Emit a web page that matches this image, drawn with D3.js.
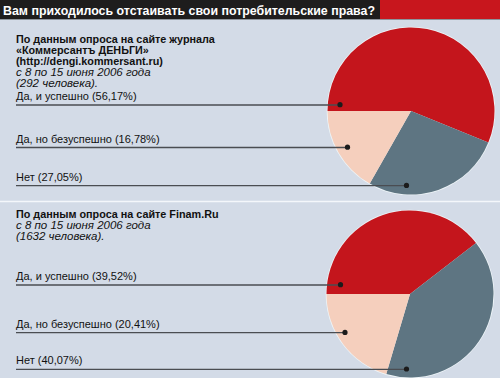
<!DOCTYPE html>
<html><head><meta charset="utf-8">
<script src="https://cdn.jsdelivr.net/npm/d3@7"></script>
<style>body{margin:0;padding:0;background:#d3dbe7}svg{display:block}</style>
</head><body>
<script>
const title = "Вам приходилось отстаивать свои потребительские права?";
const categories = ["Да, и успешно", "Нет", "Да, но безуспешно"];
const survey1Values = [56.17, 27.05, 16.78];
const survey2Values = [39.52, 40.07, 20.41];
const survey1Header = ["По данным опроса на сайте журнала", "«Коммерсантъ ДЕНЬГИ»", "(http://dengi.kommersant.ru)"];
const survey1Sub = ["с 8 по 15 июня 2006 года", "(292 человека)."];
const survey2Header = ["По данным опроса на сайте Finam.Ru"];
const survey2Sub = ["с 8 по 15 июня 2006 года", "(1632 человека)."];
const labelOrder = ["Да, и успешно", "Да, но безуспешно", "Нет"];
const colors = ["#c4151c", "#5e7582", "#f5cfbd"];

const W = 500, H = 378;
const svg = d3.select("body").append("svg").attr("width", W).attr("height", H);
svg.append("rect").attr("width", W).attr("height", H).attr("fill", "#d3dbe7");
// header
svg.append("rect").attr("x",0).attr("y",0).attr("width",380).attr("height",19).attr("fill","#1e1d1d");
svg.append("rect").attr("x",380).attr("y",0).attr("width",120).attr("height",19).attr("fill","#c8161d");
svg.append("line").attr("x1",0).attr("x2",W).attr("y1",19.5).attr("y2",19.5).attr("stroke","#8d949c").attr("stroke-width",1);
svg.append("text").attr("x",3).attr("y",15).attr("fill","#fff")
  .attr("font-family","Liberation Sans, Arial, sans-serif").attr("font-weight","bold").attr("font-size",13.5)
  .attr("textLength",372).attr("lengthAdjust","spacingAndGlyphs")
  .text(title);
// separator
svg.append("line").attr("x1",0).attr("x2",W).attr("y1",201.5).attr("y2",201.5).attr("stroke","#f4f7fb").attr("stroke-width",1.6);

const color = d3.scaleOrdinal().domain(categories).range(colors);
const pie = d3.pie().sort(null).value(d => d.v).startAngle(-Math.PI/2).endAngle(1.5*Math.PI);

function drawSurvey(cfg){
  const g = svg.append("g");
  const font = "Liberation Sans, Arial, sans-serif";
  let y = cfg.textY;
  cfg.header.forEach(t => {
    g.append("text").attr("x",16).attr("y",y).attr("font-family",font).attr("font-weight","bold")
      .attr("font-size",10.8).attr("fill","#111").text(t);
    y += 11;
  });
  cfg.sub.forEach(t => {
    g.append("text").attr("x",16).attr("y",y).attr("font-family",font).attr("font-style","italic")
      .attr("font-size",11.5).attr("fill","#111").text(t);
    y += 11;
  });
  const data = categories.map((c,i) => ({c, v: cfg.values[i]}));
  const arcs = pie(data);
  const arc = d3.arc().innerRadius(0).outerRadius(cfg.r);
  const pg = g.append("g").attr("transform",`translate(${cfg.cx},${cfg.cy})`);
  pg.append("circle").attr("r",cfg.r+0.8).attr("fill","#eef5f8");
  pg.selectAll("path").data(arcs).join("path").attr("d",arc).attr("fill",d=>color(d.data.c));
  // labels with leader lines
  labelOrder.forEach((c,i) => {
    const d = data.find(e => e.c === c);
    const ly = cfg.lineY[i];
    const dx = cfg.dotX[i];
    g.append("text").attr("x",16).attr("y",ly-5).attr("font-family",font).attr("font-size",11)
      .attr("fill","#111").text(`${c} (${d3.format(".2f")(d.v).replace(".",",")}%)`);
    g.append("line").attr("x1",16).attr("x2",dx).attr("y1",ly).attr("y2",ly)
      .attr("stroke","#4a4d52").attr("stroke-width",1.3);
    g.append("circle").attr("cx",dx).attr("cy",ly-0.3).attr("r",2.6).attr("fill","#1b1b1b");
  });
}

drawSurvey({header: survey1Header, sub: survey1Sub, values: survey1Values, textY: 43,
  cx: 411, cy: 111, r: 83.5, lineY: [105, 147.5, 185.7], dotX: [340, 347.5, 406.5]});
drawSurvey({header: survey2Header, sub: survey2Sub, values: survey2Values, textY: 217.5,
  cx: 410, cy: 294, r: 83.5, lineY: [285, 332.7, 369.3], dotX: [340.5, 345, 406.5]});
</script>
</body></html>
